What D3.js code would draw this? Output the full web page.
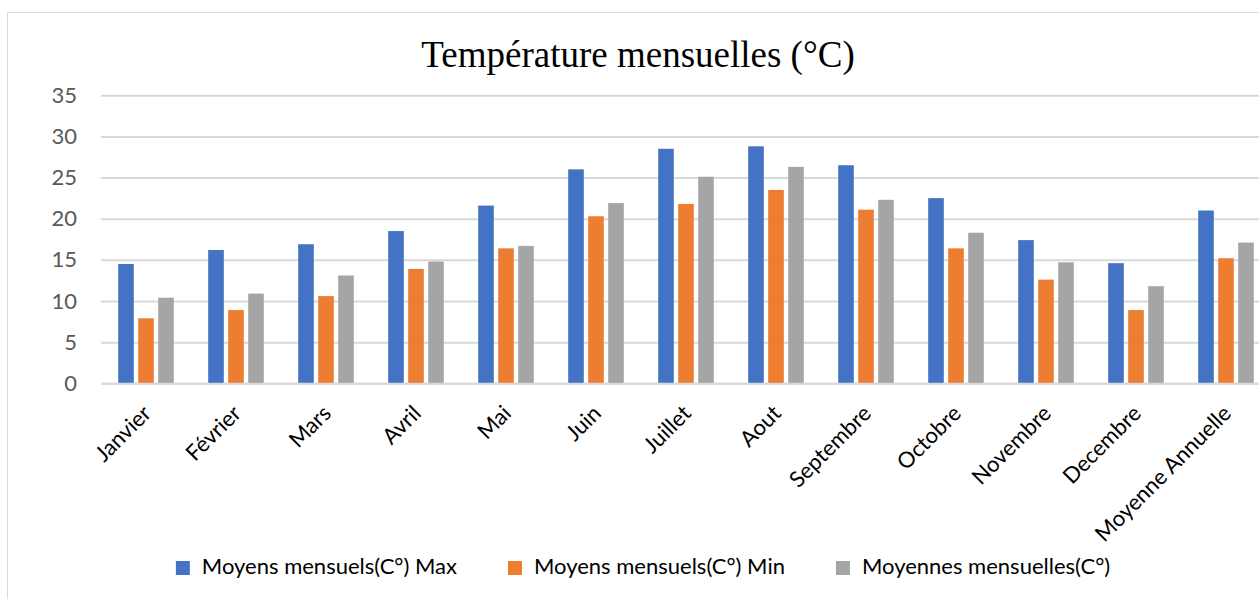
<!DOCTYPE html>
<html>
<head>
<meta charset="utf-8">
<script src="https://cdn.jsdelivr.net/npm/d3@7/dist/d3.min.js"></script>
<style>
  html, body { margin: 0; padding: 0; background: #fff; }
  svg { display: block; }
</style>
</head>
<body>
<svg id="chart" width="1259" height="599"></svg>
<script>
// Monthly temperatures (°C)
const categories = ["Janvier", "Février", "Mars", "Avril", "Mai", "Juin", "Juillet",
  "Aout", "Septembre", "Octobre", "Novembre", "Decembre", "Moyenne Annuelle"];
const seriesNames = ["Moyens mensuels(C°) Max", "Moyens mensuels(C°) Min", "Moyennes mensuelles(C°)"];
const maxValues  = [14.5, 16.2, 16.9, 18.5, 21.6, 26.0, 28.5, 28.8, 26.5, 22.5, 17.4, 14.6, 21.0];
const minValues  = [7.9, 8.9, 10.6, 13.9, 16.4, 20.3, 21.8, 23.5, 21.1, 16.4, 12.6, 8.9, 15.2];
const meanValues = [10.4, 10.9, 13.1, 14.8, 16.7, 21.9, 25.1, 26.3, 22.3, 18.3, 14.7, 11.8, 17.1];
const yTicks = [0, 5, 10, 15, 20, 25, 30, 35];
const colors = ["#4472C4", "#ED7D31", "#A5A5A5"];
const titleText = "Température mensuelles (°C)";

const series = [maxValues, minValues, meanValues];
const svg = d3.select("#chart");
const labelFont = "Lato, 'Open Sans', sans-serif";
const labelSize = 22;

// chart frame
svg.append("rect")
  .attr("x", 7.5).attr("y", 12.5)
  .attr("width", 1300).attr("height", 700)
  .attr("fill", "#fff").attr("stroke", "#d9d9d9").attr("stroke-width", 1);

// title
svg.append("text")
  .attr("x", 638).attr("y", 67)
  .attr("text-anchor", "middle")
  .attr("font-family", "'Liberation Serif', 'Times New Roman', serif")
  .attr("font-size", 37)
  .attr("fill", "#000")
  .text(titleText);

const plotLeft = 101, plotRight = 1271;
const x0 = d3.scaleBand().domain(categories).range([plotLeft, plotRight])
  .paddingInner(1 / 3).paddingOuter(1 / 6);
const x1 = d3.scaleBand().domain(d3.range(series.length)).range([0, x0.bandwidth()])
  .paddingInner(0.22).paddingOuter(0.11);
const y = d3.scaleLinear().domain([0, 35]).range([383.3, 95.3]);

// gridlines and value axis labels
const yAxis = d3.axisLeft(y).tickValues(yTicks)
  .tickSize(-(plotRight - plotLeft)).tickPadding(24);
const gy = svg.append("g").attr("transform", `translate(${plotLeft},0)`).call(yAxis);
gy.select(".domain").remove();
gy.selectAll(".tick line").attr("stroke", "#d9d9d9").attr("stroke-width", 2);
gy.selectAll(".tick text")
  .attr("font-family", labelFont).attr("font-size", labelSize).attr("fill", "#595959");

// bars
const groups = svg.append("g").selectAll("g")
  .data(categories)
  .join("g")
  .attr("transform", d => `translate(${x0(d)},0)`);
groups.selectAll("rect")
  .data((d, i) => series.map((s, k) => ({ k, v: s[i] })))
  .join("rect")
  .attr("x", d => x1(d.k))
  .attr("width", x1.bandwidth())
  .attr("y", d => y(d.v))
  .attr("height", d => y(0) - y(d.v))
  .attr("fill", d => colors[d.k]);

// category axis
const xAxis = d3.axisBottom(x0).tickSize(0).tickPadding(0);
const gx = svg.append("g").attr("transform", `translate(0,${y(0)})`).call(xAxis);
gx.select(".domain").attr("stroke", "#d9d9d9").attr("stroke-width", 2);
gx.selectAll(".tick text")
  .attr("font-family", labelFont).attr("font-size", labelSize).attr("fill", "#000")
  .attr("text-anchor", "end")
  .attr("dy", "0.35em")
  .attr("transform", "translate(1,26) rotate(-45)")
  .attr("y", 0);

// legend
const legend = svg.append("g");
const items = legend.selectAll("g").data(seriesNames).join("g");
items.append("rect").attr("width", 14).attr("height", 14).attr("y", -13)
  .attr("fill", (d, i) => colors[i]);
items.append("text").attr("x", 26).attr("y", 0)
  .attr("font-family", labelFont).attr("font-size", labelSize).attr("fill", "#000")
  .text(d => d);
let cursor = 0;
const gap = 51;
items.each(function () {
  const w = 26 + this.querySelector("text").getComputedTextLength();
  d3.select(this).attr("transform", `translate(${cursor},0)`);
  cursor += w + gap;
});
const legendWidth = cursor - gap;
legend.attr("transform", `translate(${643 - legendWidth / 2},574)`);
</script>
</body>
</html>
